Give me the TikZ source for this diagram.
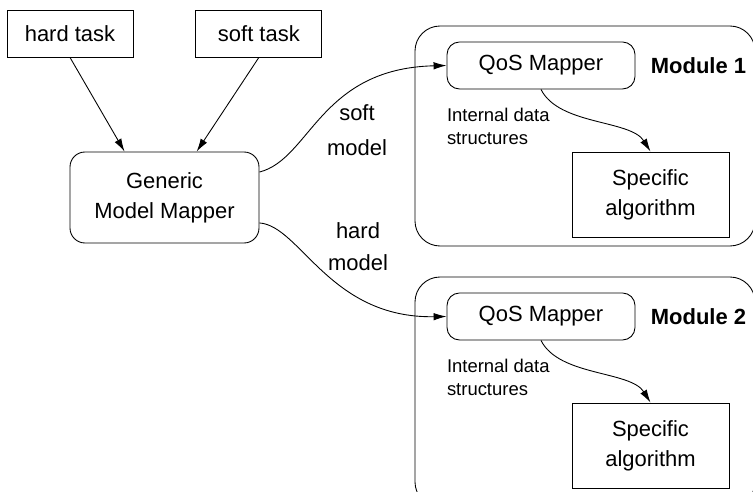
\documentclass[tikz,border=0pt]{standalone}
\usepackage{fontspec}
\setmainfont{Liberation Sans}
\usetikzlibrary{positioning, arrows.meta}

\begin{document}
\begin{tikzpicture}[
  line width=0.5pt,
  task/.style={rectangle, draw, minimum width=2.52cm, minimum height=0.94cm, font=\fontsize{12.5}{17}\selectfont},
  mapper/.style={rectangle, draw, rounded corners=0.3cm, minimum width=3.78cm, minimum height=1.82cm, align=center, font=\fontsize{12.5}{17}\selectfont},
  qos/.style={rectangle, draw, rounded corners=0.25cm, minimum width=3.76cm, minimum height=0.94cm, font=\fontsize{12.5}{17}\selectfont},
  module/.style={rectangle, draw, rounded corners=0.5cm, minimum width=6.8cm, minimum height=4.4cm},
  algo/.style={rectangle, draw, minimum width=3.14cm, minimum height=1.7cm, align=center, font=\fontsize{12.5}{17}\selectfont},
  note/.style={inner sep=0pt, align=left, font=\fontsize{10.5}{13}\selectfont},
  modlabel/.style={inner sep=0pt, font=\fontsize{12.5}{15}\selectfont\bfseries},
  edgelabel/.style={align=center, font=\fontsize{12.5}{18}\selectfont},
  arrow/.style={-{Latex[length=2.6mm,width=1.5mm]}}
]
\useasboundingbox[fill=white] (0,0) rectangle (15.06,9.84);
\clip (0,0) rectangle (15.06,9.84);

% tasks and generic mapper
\node[task] (hardtask) at (1.40,9.17) {hard task};
\node[task, right=1.24cm of hardtask] (softtask) {soft task};
\node[mapper] (gmm) at (3.29,5.89) {Generic\\Model Mapper};

% module 1
\node[module] (mod1) at (11.70,7.12) {};
\node[qos, below right=0.32cm and 0.64cm of mod1.north west] (qos1) {QoS Mapper};
\node[modlabel, right=0.3cm of qos1] (lab1) {Module 1};
\node[note, below right=0.36cm and 0cm of qos1.south west] (note1) {Internal data\\structures};
\node[algo, above left=0.18cm and 0.52cm of mod1.south east] (alg1) {Specific\\algorithm};

% module 2 (cut off at the bottom)
\node[module, minimum height=4.6cm] (mod2) at (11.70,2.00) {};
\node[qos, below right=0.32cm and 0.64cm of mod2.north west] (qos2) {QoS Mapper};
\node[modlabel, right=0.3cm of qos2] (lab2) {Module 2};
\node[note, below right=0.36cm and 0cm of qos2.south west] (note2) {Internal data\\structures};
\node[algo, above left=0.38cm and 0.52cm of mod2.south east] (alg2) {Specific\\algorithm};

% edge labels
\node[edgelabel] (softlab) at (7.14,7.24) {soft\\[2pt]model};
\node[edgelabel] (hardlab) at (7.16,4.91) {hard\\model};

\draw[arrow] (hardtask.south) -- (gmm.131);
\draw[arrow] (softtask.south) -- (gmm.55);
\draw[arrow] (gmm.15) .. controls +(1.02,0.26) and +(-2.54,-0.06) .. (qos1.west);
\draw[arrow] (gmm.-15) .. controls +(0.82,-0.06) and +(-2.34,-0.04) .. (qos2.west);
\draw[arrow] (qos1.south) .. controls +(0.36,-0.72) and +(-0.40,0.64) .. (alg1.north);
\draw[arrow] (qos2.south) .. controls +(0.36,-0.72) and +(-0.40,0.64) .. (alg2.north);
\end{tikzpicture}
\end{document}
